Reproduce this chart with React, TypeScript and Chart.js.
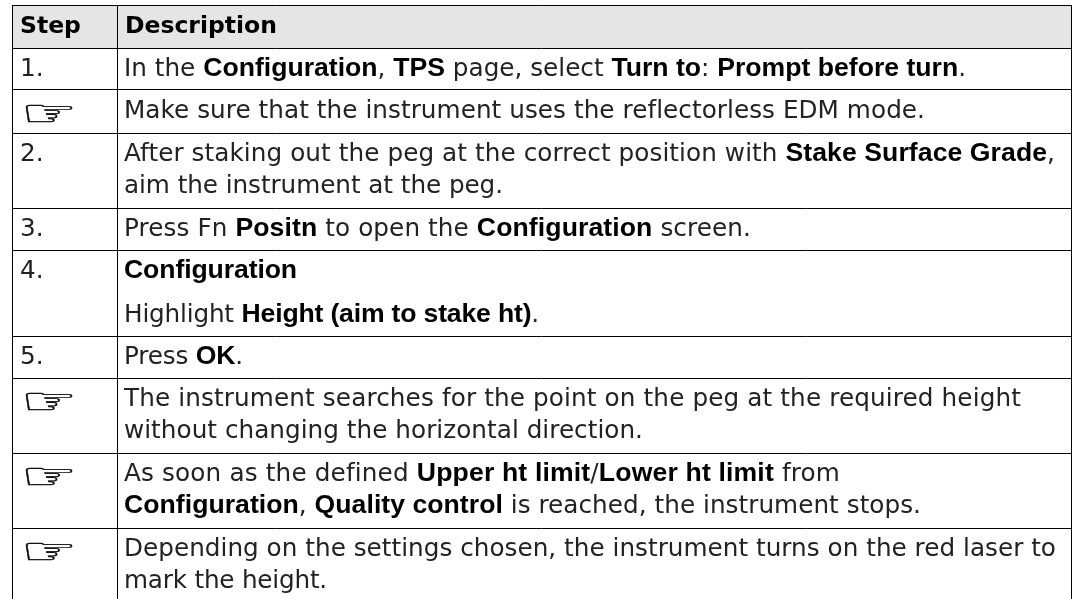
import React, { useEffect, useRef } from "react";
import { Chart, registerables } from "chart.js";

Chart.register(...registerables);

// Table geometry, in image pixels.
const columnEdges = [12, 117, 1071];
const rowEdges = [5, 48, 90, 133, 208, 250, 336, 378, 453, 528];
const headers = ["Step", "Description"];
const HAND = "\u261E";
const stepLabels = ["1.", HAND, "2.", "3.", "4.", "5.", HAND, HAND, HAND];
// Each cell is a list of paragraphs; each paragraph a list of lines; **x** is bold.
const descriptions: string[][][] = [
  [["In the **Configuration**, **TPS** page, select **Turn to**: **Prompt before turn**."]],
  [["Make sure that the instrument uses the reflectorless EDM mode."]],
  [["After staking out the peg at the correct position with **Stake Surface Grade**,", "aim the instrument at the peg."]],
  [["Press Fn **Positn** to open the **Configuration** screen."]],
  [["**Configuration**"], ["Highlight **Height (aim to stake ht)**."]],
  [["Press **OK**."]],
  [["The instrument searches for the point on the peg at the required height", "without changing the horizontal direction."]],
  [["As soon as the defined **Upper ht limit**/**Lower ht limit** from", "**Configuration**, **Quality control** is reached, the instrument stops."]],
  [["Depending on the settings chosen, the instrument turns on the red laser to", "mark the height."]],
];
// Where each description line ends in the picture, in reading order; the text is spaced to fit.
const lineEnds = [966, 925, 1055, 503, 751, 297, 539, 243, 1021, 643, 840, 921, 1056, 327];

const REG = '24.7px "DejaVu Sans"';
const BOLD = 'bold 26.6px "Liberation Sans"';
const HEAD = 'bold 23.5px "DejaVu Sans"';
const ICON = '37px "DejaVu Sans"';
const INK = "#222222";
const BLACK = "#000000";
const BASE = 28, LINE = 32, PARA = 44;

type P = { x: number; y: number; text: string; kind: string; end?: number };
const cellPoints: P[] = [];
headers.forEach((t, c) => cellPoints.push({ x: columnEdges[c] + 8, y: rowEdges[0] + BASE, text: t, kind: "head" }));
stepLabels.forEach((t, r) => cellPoints.push({ x: columnEdges[0] + 8, y: rowEdges[r + 1] + BASE, text: t, kind: t === HAND ? "icon" : "step" }));
let lineIndex = 0;
descriptions.forEach((paras, r) => {
  let y = rowEdges[r + 1] + BASE;
  paras.forEach((lines, pi) => {
    if (pi) y += PARA - LINE;
    lines.forEach((l) => {
      cellPoints.push({ x: columnEdges[1] + 7, y, text: l, kind: "text", end: lineEnds[lineIndex++] });
      y += LINE;
    });
  });
});

const textPlugin = {
  id: "cellText",
  afterDatasetsDraw(chart: any) {
    const { ctx } = chart;
    const meta = chart.getDatasetMeta(1);
    ctx.save();
    ctx.textBaseline = "alphabetic";
    meta.data.forEach((el: any, i: number) => {
      const p = cellPoints[i];
      let x = el.x;
      ctx.letterSpacing = "0px";
      if (p.kind === "head") { ctx.font = HEAD; ctx.fillStyle = BLACK; ctx.fillText(p.text, x, el.y); return; }
      if (p.kind === "step") { ctx.font = REG; ctx.fillStyle = INK; ctx.fillText(p.text, x, el.y); return; }
      if (p.kind === "icon") {
        ctx.save();
        ctx.translate(x + 0.5, el.y + 8);
        ctx.scale(1.72, 1);
        ctx.font = ICON;
        ctx.fillStyle = BLACK;
        ctx.strokeStyle = BLACK;
        ctx.lineWidth = 0.35;
        ctx.fillText(p.text, 0, 0);
        ctx.strokeText(p.text, 0, 0);
        ctx.restore();
        return;
      }
      const runs = p.text.split("**");
      let natural = 0, chars = 0;
      runs.forEach((run, k) => {
        ctx.font = k % 2 ? BOLD : REG;
        natural += ctx.measureText(run).width;
        chars += run.length;
      });
      const spacing = ((p.end as number) - x - natural) / chars;
      ctx.letterSpacing = `${spacing}px`;
      runs.forEach((run, k) => {
        ctx.font = k % 2 ? BOLD : REG;
        ctx.fillStyle = k % 2 ? BLACK : INK;
        ctx.fillText(run, x, el.y);
        x += ctx.measureText(run).width;
      });
    });
    ctx.restore();
  },
};

export default function App() {
  const ref = useRef<HTMLCanvasElement>(null);
  useEffect(() => {
    document.body.style.margin = "0";
    document.body.style.background = "#fff";
    const chart = new Chart(ref.current!, {
      type: "scatter",
      data: {
        datasets: [
          {
            data: [{ x: columnEdges[0], y: rowEdges[0] }, { x: columnEdges[2], y: rowEdges[0] }],
            showLine: true,
            borderWidth: 0,
            pointRadius: 0,
            backgroundColor: "#e5e5e5",
            fill: { value: rowEdges[1] },
          },
          {
            data: cellPoints.map((p) => ({ x: p.x, y: p.y })),
            pointRadius: 0,
            showLine: false,
          },
        ],
      },
      options: {
        animation: false,
        responsive: false,
        layout: { padding: { left: 12, top: 5, right: 5, bottom: 0 } },
        plugins: { legend: { display: false }, tooltip: { enabled: false } },
        scales: {
          x: {
            type: "linear",
            min: columnEdges[0],
            max: columnEdges[2],
            afterBuildTicks: (s: any) => { s.ticks = columnEdges.map((value) => ({ value })); },
            ticks: { display: false },
            border: { display: false },
            grid: { color: BLACK, lineWidth: 1, drawTicks: false, z: 1 },
          },
          y: {
            type: "linear",
            reverse: true,
            min: rowEdges[0],
            max: 599,
            afterBuildTicks: (s: any) => { s.ticks = rowEdges.map((value) => ({ value })); },
            ticks: { display: false },
            border: { display: false },
            grid: { color: BLACK, lineWidth: 1, drawTicks: false, z: 1 },
          },
        },
      },
      plugins: [textPlugin],
    } as any);
    return () => chart.destroy();
  }, []);
  return <canvas ref={ref} width={1076} height={599} style={{ display: "block" }} />;
}
